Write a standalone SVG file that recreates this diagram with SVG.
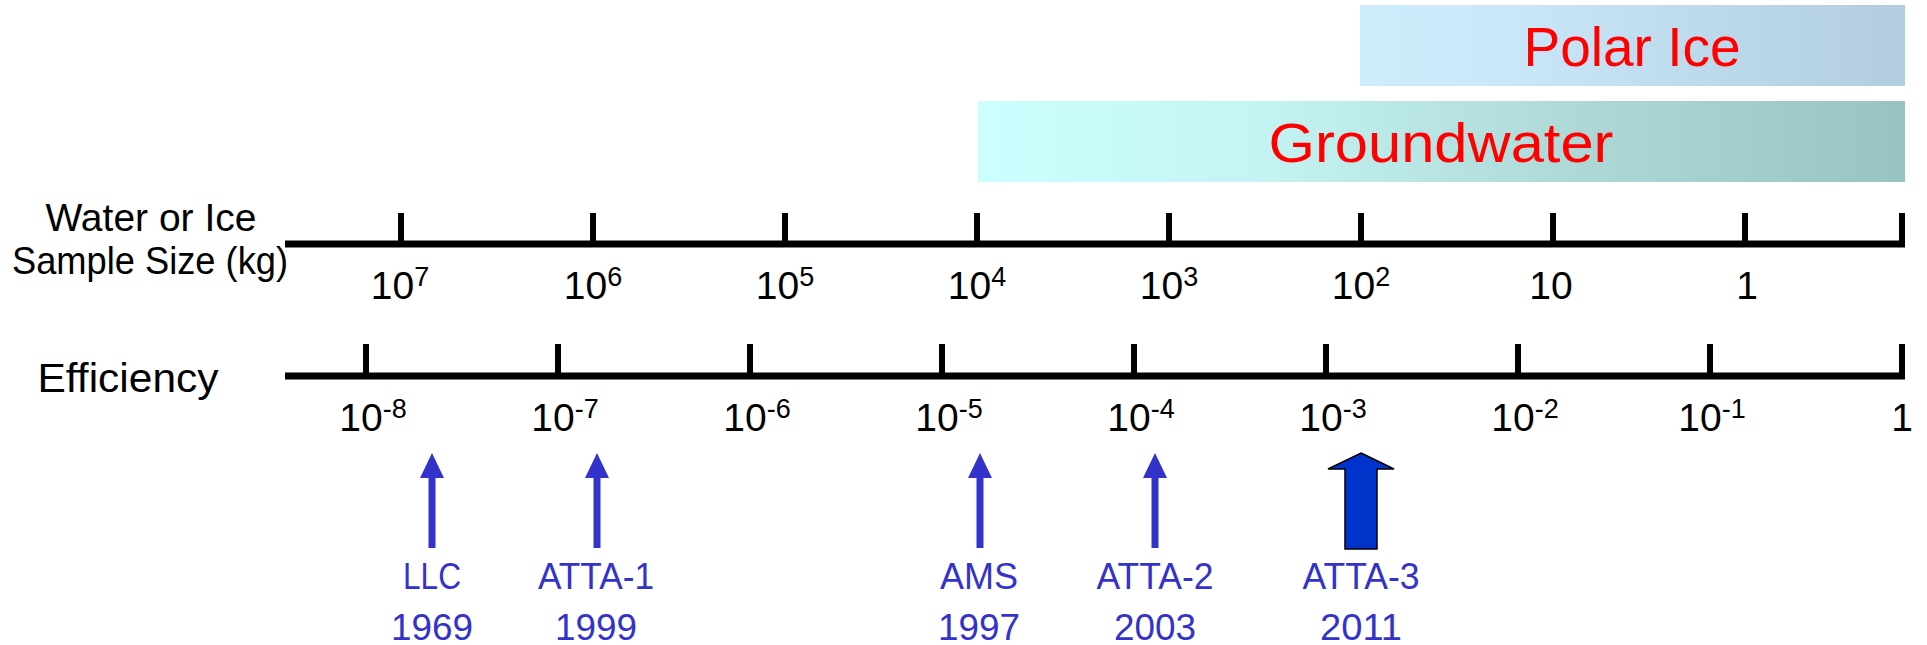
<svg xmlns="http://www.w3.org/2000/svg" width="1927" height="645" viewBox="0 0 1927 645">
  <defs>
    <linearGradient id="gradPolar" x1="0" y1="0" x2="1" y2="0">
      <stop offset="0" stop-color="#CDECFC"/>
      <stop offset="0.25" stop-color="#CAE8F9"/>
      <stop offset="1" stop-color="#B1CDDF"/>
    </linearGradient>
    <linearGradient id="gradGround" x1="0" y1="0" x2="1" y2="0">
      <stop offset="0" stop-color="#CCFFFF"/>
      <stop offset="0.3" stop-color="#C4F4F3"/>
      <stop offset="0.65" stop-color="#ADD8D6"/>
      <stop offset="1" stop-color="#99C3C2"/>
    </linearGradient>
    <style>
      .band-label { font-family: "Liberation Sans", Arial, sans-serif; font-size: 56px; fill: #FF0000; text-anchor: middle; }
      .axis-title { font-family: "Liberation Sans", Arial, sans-serif; font-size: 39px; fill: #000000; text-anchor: middle; }
      .num { font-family: "Liberation Sans", Arial, sans-serif; font-size: 39px; fill: #000000; text-anchor: middle; }
      .sup { font-size: 27px; }
      .axis { stroke: #000000; stroke-width: 7; fill: none; }
      .tick { stroke: #000000; stroke-width: 6; fill: none; }
      .method { font-family: "Liberation Sans", Arial, sans-serif; font-size: 37px; fill: #3333CC; text-anchor: middle; }
      .shaft { stroke: #3333CC; stroke-width: 7; fill: none; }
      .head { fill: #3333CC; }
      .big-arrow { fill: #0033CC; stroke: #000000; stroke-width: 1.5; }
    </style>
  </defs>

  <rect width="1927" height="645" fill="#FFFFFF"/>

  <!-- sample-size ranges -->
  <g id="polar-ice">
    <rect x="1360" y="5" width="545" height="81" fill="url(#gradPolar)"/>
    <text class="band-label" x="1632" y="66" textLength="217" lengthAdjust="spacingAndGlyphs">Polar Ice</text>
  </g>
  <g id="groundwater">
    <rect x="978" y="101" width="927" height="81" fill="url(#gradGround)"/>
    <text class="band-label" x="1441" y="162" textLength="345" lengthAdjust="spacingAndGlyphs">Groundwater</text>
  </g>

  <!-- sample size axis -->
  <g id="axis-sample-size">
    <text class="axis-title" x="151" y="231" textLength="211" lengthAdjust="spacingAndGlyphs">Water or Ice</text>
    <text class="axis-title" x="150" y="274" textLength="276" lengthAdjust="spacingAndGlyphs">Sample Size (kg)</text>
    <line class="axis" x1="285" y1="244" x2="1905" y2="244"/>
    <line class="tick" x1="401" y1="213" x2="401" y2="244"/>
    <line class="tick" x1="593" y1="213" x2="593" y2="244"/>
    <line class="tick" x1="785" y1="213" x2="785" y2="244"/>
    <line class="tick" x1="977" y1="213" x2="977" y2="244"/>
    <line class="tick" x1="1169" y1="213" x2="1169" y2="244"/>
    <line class="tick" x1="1361" y1="213" x2="1361" y2="244"/>
    <line class="tick" x1="1553" y1="213" x2="1553" y2="244"/>
    <line class="tick" x1="1745" y1="213" x2="1745" y2="244"/>
    <line class="tick" x1="1902" y1="213" x2="1902" y2="247"/>
    <text class="num" x="400" y="299">10<tspan class="sup" dy="-13">7</tspan></text>
    <text class="num" x="593" y="299">10<tspan class="sup" dy="-13">6</tspan></text>
    <text class="num" x="785" y="299">10<tspan class="sup" dy="-13">5</tspan></text>
    <text class="num" x="977" y="299">10<tspan class="sup" dy="-13">4</tspan></text>
    <text class="num" x="1169" y="299">10<tspan class="sup" dy="-13">3</tspan></text>
    <text class="num" x="1361" y="299">10<tspan class="sup" dy="-13">2</tspan></text>
    <text class="num" x="1551" y="299">10</text>
    <text class="num" x="1747" y="299">1</text>
  </g>

  <!-- efficiency axis -->
  <g id="axis-efficiency">
    <text class="axis-title" x="128" y="392" style="font-size:41px" textLength="181" lengthAdjust="spacingAndGlyphs">Efficiency</text>
    <line class="axis" x1="285" y1="376" x2="1905" y2="376"/>
    <line class="tick" x1="366" y1="344" x2="366" y2="376"/>
    <line class="tick" x1="558" y1="344" x2="558" y2="376"/>
    <line class="tick" x1="750" y1="344" x2="750" y2="376"/>
    <line class="tick" x1="942" y1="344" x2="942" y2="376"/>
    <line class="tick" x1="1134" y1="344" x2="1134" y2="376"/>
    <line class="tick" x1="1326" y1="344" x2="1326" y2="376"/>
    <line class="tick" x1="1518" y1="344" x2="1518" y2="376"/>
    <line class="tick" x1="1710" y1="344" x2="1710" y2="376"/>
    <line class="tick" x1="1902" y1="344" x2="1902" y2="379"/>
    <text class="num" x="373" y="431">10<tspan class="sup" dy="-13">-8</tspan></text>
    <text class="num" x="565" y="431">10<tspan class="sup" dy="-13">-7</tspan></text>
    <text class="num" x="757" y="431">10<tspan class="sup" dy="-13">-6</tspan></text>
    <text class="num" x="949" y="431">10<tspan class="sup" dy="-13">-5</tspan></text>
    <text class="num" x="1141" y="431">10<tspan class="sup" dy="-13">-4</tspan></text>
    <text class="num" x="1333" y="431">10<tspan class="sup" dy="-13">-3</tspan></text>
    <text class="num" x="1525" y="431">10<tspan class="sup" dy="-13">-2</tspan></text>
    <text class="num" x="1712" y="431">10<tspan class="sup" dy="-13">-1</tspan></text>
    <text class="num" x="1902" y="431">1</text>
  </g>

  <!-- method pointers onto the efficiency axis -->
  <g id="connectors">
    <line class="shaft" x1="432" y1="548" x2="432" y2="474"/>
    <polygon class="head" points="432,453 444,478 420,478"/>
    <line class="shaft" x1="597" y1="548" x2="597" y2="474"/>
    <polygon class="head" points="597,453 609,478 585,478"/>
    <line class="shaft" x1="980" y1="548" x2="980" y2="474"/>
    <polygon class="head" points="980,453 992,478 968,478"/>
    <line class="shaft" x1="1155" y1="548" x2="1155" y2="474"/>
    <polygon class="head" points="1155,453 1167,478 1143,478"/>
    <path class="big-arrow" d="M1361,453 L1394,469 L1377,469 L1377,549 L1345,549 L1345,469 L1328,469 Z"/>
  </g>

  <!-- methods -->
  <g id="llc">
    <text class="method" x="432" y="589" textLength="58" lengthAdjust="spacingAndGlyphs">LLC</text>
    <text class="method" x="432" y="640" textLength="82" lengthAdjust="spacingAndGlyphs">1969</text>
  </g>
  <g id="atta-1">
    <text class="method" x="596" y="589" textLength="116" lengthAdjust="spacingAndGlyphs">ATTA-1</text>
    <text class="method" x="596" y="640" textLength="82" lengthAdjust="spacingAndGlyphs">1999</text>
  </g>
  <g id="ams">
    <text class="method" x="979" y="589" textLength="78" lengthAdjust="spacingAndGlyphs">AMS</text>
    <text class="method" x="979" y="640" textLength="82" lengthAdjust="spacingAndGlyphs">1997</text>
  </g>
  <g id="atta-2">
    <text class="method" x="1155" y="589" textLength="117" lengthAdjust="spacingAndGlyphs">ATTA-2</text>
    <text class="method" x="1155" y="640" textLength="82" lengthAdjust="spacingAndGlyphs">2003</text>
  </g>
  <g id="atta-3">
    <text class="method" x="1361" y="589" textLength="117" lengthAdjust="spacingAndGlyphs">ATTA-3</text>
    <text class="method" x="1361" y="640" textLength="82" lengthAdjust="spacingAndGlyphs">2011</text>
  </g>
</svg>
